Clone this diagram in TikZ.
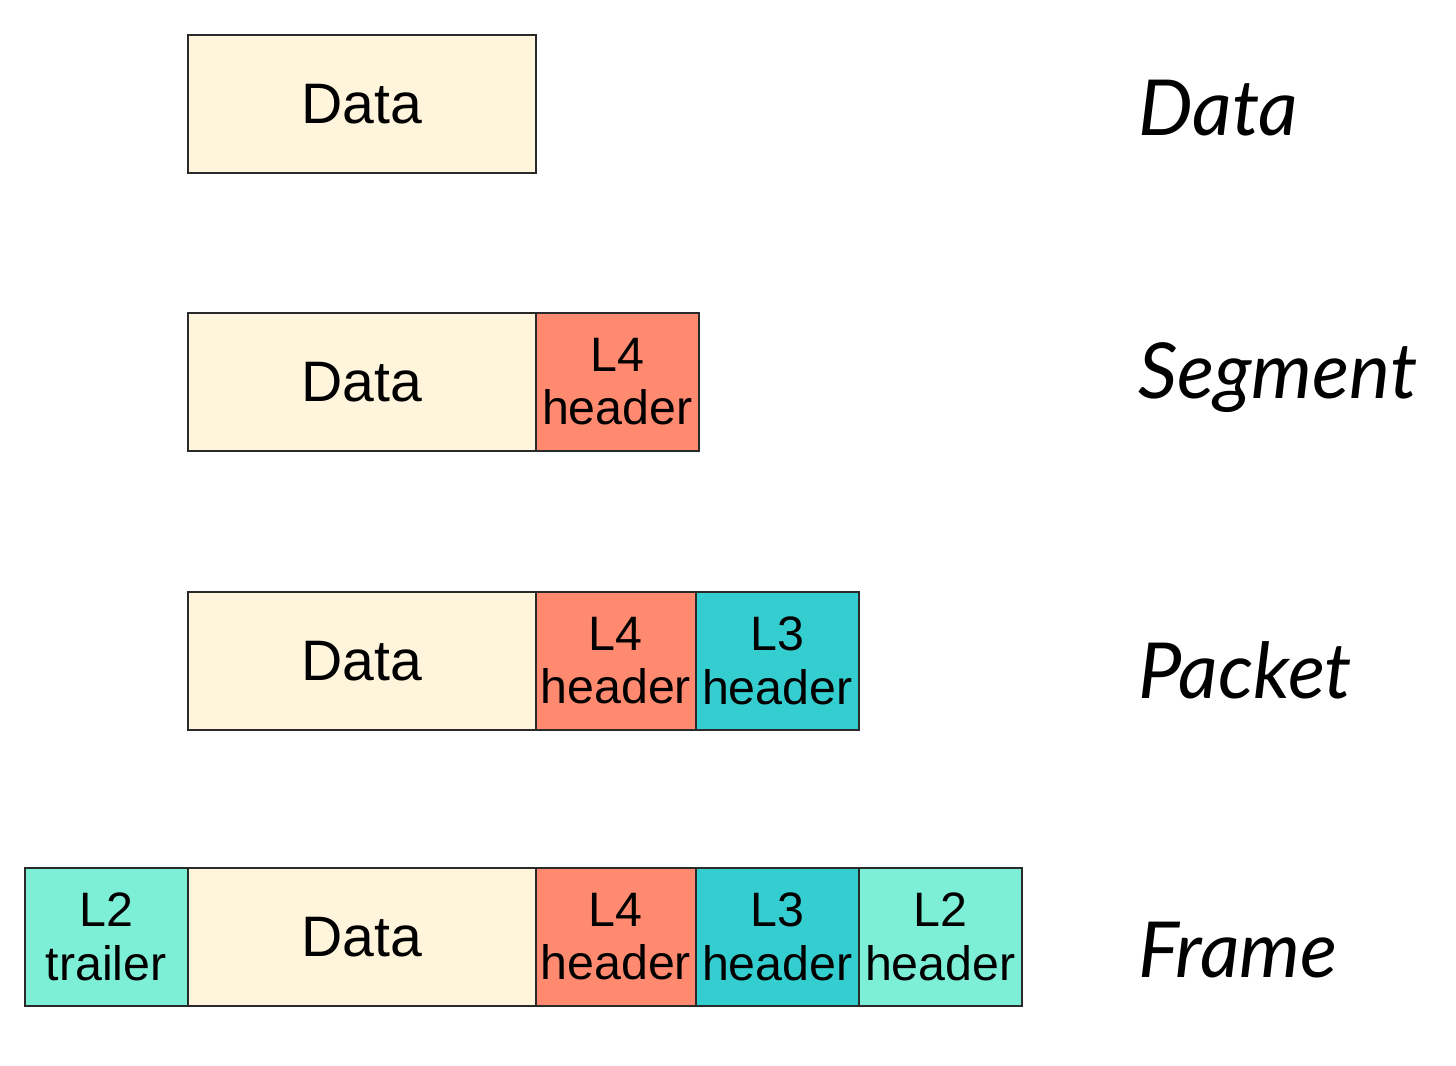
\documentclass[tikz,border=0pt]{standalone}
\usepackage{fontspec}
\setmainfont{Liberation Sans}
\newfontfamily\handfont{Lato Italic}
\definecolor{datafill}{HTML}{FFF5DC}
\definecolor{lfourfill}{HTML}{FF8A70}
\definecolor{lthreefill}{HTML}{35CED0}
\definecolor{ltwofill}{HTML}{7DEFD6}
\definecolor{edge}{HTML}{2A2A2A}
\tikzset{
  cell/.style={draw=edge, line width=0.9pt, anchor=north west, inner sep=0pt, align=center},
  datacell/.style={cell, fill=datafill, minimum width=348*0.02cm, minimum height=138*0.02cm, font=\fontsize{32.5}{37}\selectfont},
  hdrcell/.style={cell, minimum height=138*0.02cm, font=\fontsize{27.5}{30.5}\selectfont},
  lfour/.style={hdrcell, fill=lfourfill},
  lthree/.style={hdrcell, fill=lthreefill},
  ltwo/.style={hdrcell, fill=ltwofill},
  lbl/.style={anchor=west, inner sep=0pt, font=\handfont\fontsize{44}{50}\selectfont}
}
\begin{document}
\begin{tikzpicture}[x=0.02cm, y=-0.02cm]
\useasboundingbox[fill=white] (0,0) rectangle (1456,1065);
% Row 1
\node[datacell] (d1) at (187,34) {Data};
\node[lbl] (t1) at (1138,108) {Data};
% Row 2
\node[datacell] (d2) at (187,312) {Data};
\node[lfour, minimum width=163*0.02cm] (h42) at (535,312) {L4\\header};
\node[lbl] (t2) at (1138,378) {Segment};
% Row 3
\node[datacell] (d3) at (187,591) {Data};
\node[lfour, minimum width=160*0.02cm] (h43) at (535,591) {L4\\header};
\node[lthree, minimum width=163*0.02cm] (h33) at (695,591) {L3\\header};
\node[lbl] (t3) at (1138,670) {Packet};
% Row 4
\node[ltwo, minimum width=163*0.02cm] (tr4) at (24,867) {L2\\trailer};
\node[datacell] (d4) at (187,867) {Data};
\node[lfour, minimum width=160*0.02cm] (h44) at (535,867) {L4\\header};
\node[lthree, minimum width=163*0.02cm] (h34) at (695,867) {L3\\header};
\node[ltwo, minimum width=163*0.02cm] (h24) at (858,867) {L2\\header};
\node[lbl] (t4) at (1138,950) {Frame};
\end{tikzpicture}
\end{document}
